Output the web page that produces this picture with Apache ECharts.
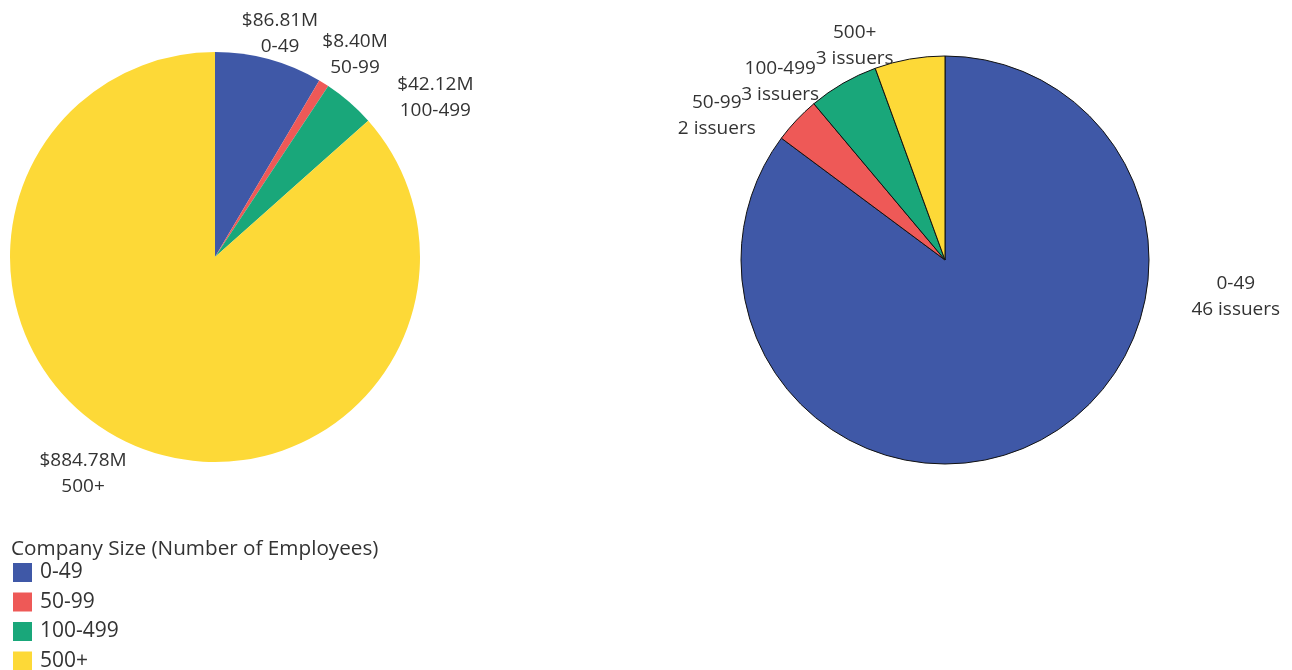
<!DOCTYPE html>
<html>
<head>
<meta charset="utf-8">
<script src="https://cdn.jsdelivr.net/npm/echarts@6/dist/echarts.min.js"></script>
<style>
  html, body { margin: 0; padding: 0; background: #fff; }
  #chart { width: 1292px; height: 670px; }
</style>
</head>
<body>
<div id="chart"></div>
<script>
// Company size buckets (number of employees)
const categories = ['0-49', '50-99', '100-499', '500+'];
// Amount raised per bucket, in millions of dollars
const amountRaised = [86.81, 8.40, 42.12, 884.78];
// Number of issuers per bucket
const issuerCounts = [46, 2, 3, 3];

const colors = ['#3F58A7', '#EE5957', '#19A77A', '#FDD937'];
const textColor = '#333333';
const fontFamily = '"Open Sans", "Noto Sans", sans-serif';

// Label anchor: [angle in degrees clockwise from 12 o'clock, distance from centre in px]
const leftLabelPlace = [[16.2, 233], [34.7, 246], [54.1, 272], [211.3, 254]];
const rightLabelPlace = [[97.1, 293], [302.3, 270], [317.3, 243], [337.2, 233]];

const leftCenter = [215, 257];
const rightCenter = [945, 260];

function placeLabel(center, places) {
  return function (params) {
    const p = places[params.dataIndex];
    const a = p[0] * Math.PI / 180;
    return {
      x: center[0] + p[1] * Math.sin(a),
      y: center[1] - p[1] * Math.cos(a),
      align: 'center',
      verticalAlign: 'middle'
    };
  };
}

const labelStyle = {
  show: true,
  position: 'outside',
  color: textColor,
  fontFamily: fontFamily,
  fontSize: 19,
  lineHeight: 26,
  align: 'center'
};

const chart = echarts.init(document.getElementById('chart'), null, { renderer: 'canvas' });

chart.setOption({
  animation: false,
  color: colors,
  title: {
    text: 'Company Size (Number of Employees)',
    left: 6,
    top: 534,
    textStyle: { color: textColor, fontFamily: fontFamily, fontSize: 20.7, fontWeight: 'normal' }
  },
  legend: {
    orient: 'vertical',
    left: 13,
    top: 562,
    height: 120,
    padding: 0,
    icon: 'rect',
    itemWidth: 19,
    itemHeight: 19,
    itemGap: 8.5,
    data: categories,
    textStyle: { color: textColor, fontFamily: fontFamily, fontSize: 21, lineHeight: 19, padding: [2, 0, 0, 3] }
  },
  series: [
    {
      name: 'Amount Raised',
      type: 'pie',
      center: leftCenter,
      radius: 205,
      startAngle: 90,
      clockwise: true,
      avoidLabelOverlap: false,
      itemStyle: { borderWidth: 0 },
      label: Object.assign({}, labelStyle, {
        formatter: p => '$' + p.value.toFixed(2) + 'M\n' + p.name
      }),
      labelLine: { show: false },
      labelLayout: placeLabel(leftCenter, leftLabelPlace),
      data: categories.map((c, i) => ({ name: c, value: amountRaised[i] }))
    },
    {
      name: 'Issuers',
      type: 'pie',
      center: rightCenter,
      radius: 204,
      startAngle: 90,
      clockwise: true,
      avoidLabelOverlap: false,
      itemStyle: { borderColor: '#111', borderWidth: 1 },
      label: Object.assign({}, labelStyle, {
        formatter: p => p.name + '\n' + p.value + ' issuers'
      }),
      labelLine: { show: false },
      labelLayout: placeLabel(rightCenter, rightLabelPlace),
      data: categories.map((c, i) => ({ name: c, value: issuerCounts[i] }))
    }
  ]
});
</script>
</body>
</html>
